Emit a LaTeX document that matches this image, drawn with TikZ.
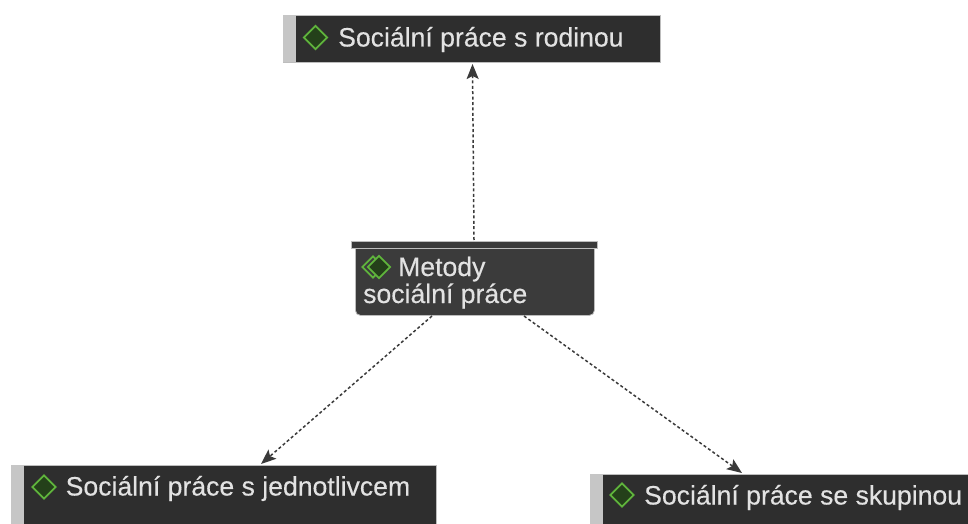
\documentclass[tikz,border=0pt]{standalone}
\usepackage{fontspec}
\setmainfont{Liberation Sans}
\newfontfamily\labelfont[FakeBold=0.3]{Liberation Sans}
\usetikzlibrary{arrows.meta,shapes.geometric}
\definecolor{boxdark}{HTML}{2E2E2E}
\definecolor{middark}{HTML}{3B3B3B}
\definecolor{stripgray}{HTML}{C6C6C6}
\definecolor{edgegray}{HTML}{BDBDBD}
\definecolor{labelgray}{HTML}{E2E2E2}
\definecolor{diafill}{HTML}{24401A}
\definecolor{diaedge}{HTML}{5FB43C}
\definecolor{linkgray}{HTML}{3A3A3A}
\tikzset{
  x=1pt,y=-1pt,
  box/.style={anchor=north west,inner sep=0pt,outer sep=0pt,fill=boxdark,draw=edgegray,line width=.8pt},
  strip/.style={anchor=north west,inner sep=0pt,outer sep=0pt,fill=stripgray},
  dia/.style={diamond,aspect=1,inner sep=0pt,minimum size=24pt,fill=diafill,draw=diaedge,line width=1.8pt},
  label/.style={anchor=base west,inner sep=0pt,text=labelgray,font=\labelfont\fontsize{26.6}{30}\selectfont},
  link/.style={draw=linkgray,line width=1.5pt,dash pattern=on 3pt off 2.4pt,
    -{Stealth[length=15pt,width=12pt,inset=3pt]}}
}
\begin{document}
\begin{tikzpicture}
\useasboundingbox (0,0) rectangle (968,524);
\clip (0,0) rectangle (968,524);
% top
\node[box,minimum width=377pt,minimum height=47pt] (top) at (283,15) {};
\node[strip,minimum width=13pt,minimum height=47pt] (topstrip) at (283,15) {};
\node[dia] (topdia) at (315.5,37.5) {};
\node[label] (toplabel) at (338,46.5) {Sociální práce s rodinou};
% middle
\node[anchor=north west,inner sep=0pt,fill=middark,draw=edgegray,line width=.8pt,rounded corners=5pt,minimum width=239pt,minimum height=72pt] (mid) at (355,243) {};
\node[anchor=north west,inner sep=0pt,outer sep=0pt,fill=linkgray,draw=edgegray,line width=.6pt,minimum width=246pt,minimum height=7pt] (midhead) at (351.5,241) {};
\node[dia,minimum size=22pt,fill=none] (midback) at (373,267) {};
\node[dia,minimum size=23pt] (middia) at (379,267) {};
\node[label] (midlabel1) at (398,276) {Metody};
\node[label] (midlabel2) at (363,303) {sociální práce};
% left
\node[box,minimum width=425pt,minimum height=70pt] (left) at (11,465) {};
\node[strip,minimum width=13pt,minimum height=70pt] (leftstrip) at (11,465) {};
\node[dia] (leftdia) at (44,487) {};
\node[label] (leftlabel) at (65.5,495.5) {Sociální práce s jednotlivcem};
% right
\node[box,minimum width=400pt,minimum height=60pt] (right) at (590,474) {};
\node[strip,minimum width=13pt,minimum height=60pt] (rightstrip) at (590,474) {};
\node[dia] (rightdia) at (622,495) {};
\node[label] (rightlabel) at (644,504.5) {Sociální práce se skupinou};
% connector ends
\coordinate (midL) at (432,316);
\coordinate (midR) at (524,316);
\coordinate (leftT) at (261,464);
\coordinate (rightT) at (742,473);
\coordinate (midT) at (474,240);
\coordinate (topB) at (472.5,64);
\draw[link] (midT) -- (topB);
\draw[link] (midL) -- (leftT);
\draw[link] (midR) -- (rightT);
\end{tikzpicture}
\end{document}
